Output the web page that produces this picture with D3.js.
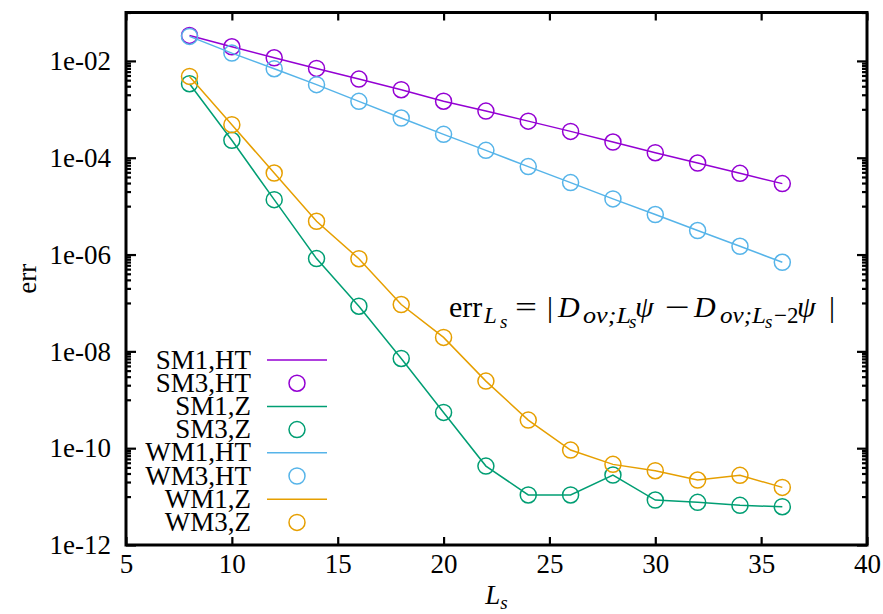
<!DOCTYPE html>
<html>
<head>
<meta charset="utf-8">
<script src="https://cdn.jsdelivr.net/npm/d3@7"></script>
<style>
  html, body { margin: 0; padding: 0; background: #fff; }
  svg { display: block; }
  text { font-family: "Liberation Serif", serif; fill: #000; }
</style>
</head>
<body>
<svg id="chart" width="883" height="614"></svg>
<script>
// Domain-wall extent L_s on the x axis
const Ls = [8, 10, 12, 14, 16, 18, 20, 22, 24, 26, 28, 30, 32, 34, 36];

// err_{L_s} for each kernel / approximation
const smHT = [3.36e-2, 1.96e-2, 1.16e-2, 7.0e-3, 4.21e-3, 2.54e-3, 1.47e-3, 9.2e-4,
              5.7e-4, 3.5e-4, 2.11e-4, 1.27e-4, 7.78e-5, 4.76e-5, 2.92e-5];
const smZ  = [3.38e-3, 2.29e-4, 1.36e-5, 8.26e-7, 8.57e-8, 7.13e-9, 5.48e-10, 4.27e-11,
              1.08e-11, 1.08e-11, 2.79e-11, 8.49e-12, 7.6e-12, 6.59e-12, 6.17e-12];
const wmHT = [3.21e-2, 1.45e-2, 6.9e-3, 3.23e-3, 1.46e-3, 6.6e-4, 3.04e-4, 1.42e-4,
              6.55e-5, 3.06e-5, 1.41e-5, 6.7e-6, 3.13e-6, 1.48e-6, 6.93e-7];
const wmZ  = [4.79e-3, 4.82e-4, 4.83e-5, 4.87e-6, 8.19e-7, 9.29e-8, 1.94e-8, 2.43e-9,
              3.8e-10, 9.14e-11, 4.63e-11, 3.42e-11, 2.2e-11, 2.75e-11, 1.55e-11];

// Legend entries, in drawing order
const legendLabels = ["SM1,HT", "SM3,HT", "SM1,Z", "SM3,Z", "WM1,HT", "WM3,HT", "WM1,Z", "WM3,Z"];

// Axis ticks
const xTicks = [5, 10, 15, 20, 25, 30, 35, 40];
const yTicks = [1e-12, 1e-10, 1e-8, 1e-6, 1e-4, 1e-2];
const yTickLabels = ["1e-12", "1e-10", "1e-08", "1e-06", "1e-04", "1e-02"];

const colors = { SM_HT: "#9400d3", SM_Z: "#009e73", WM_HT: "#56b4e9", WM_Z: "#e69f00" };

// series: line from the "1" entry, circles from the "3" entry
const series = [
  { label: legendLabels[0], kind: "line",   values: smHT, color: colors.SM_HT },
  { label: legendLabels[1], kind: "points", values: smHT, color: colors.SM_HT },
  { label: legendLabels[2], kind: "line",   values: smZ,  color: colors.SM_Z },
  { label: legendLabels[3], kind: "points", values: smZ,  color: colors.SM_Z },
  { label: legendLabels[4], kind: "line",   values: wmHT, color: colors.WM_HT },
  { label: legendLabels[5], kind: "points", values: wmHT, color: colors.WM_HT },
  { label: legendLabels[6], kind: "line",   values: wmZ,  color: colors.WM_Z },
  { label: legendLabels[7], kind: "points", values: wmZ,  color: colors.WM_Z }
];

const FONT = '"Liberation Serif", serif';
const LABEL_SIZE = 27;

const svg = d3.select("#chart");
const L = 126, R = 867, T = 12.5, B = 545;

const x = d3.scaleLinear().domain([5, 40]).range([L, R]);
const y = d3.scaleLog().domain([1e-12, 1e-1]).range([B, T]);

// minor ticks: 1..9 x 10^odd between the labelled decades
const yMinor = [];
for (let e = -11; e <= -1; e += 2) {
  for (let k = 1; k <= 9; k++) {
    const v = k * Math.pow(10, e);
    if (v <= 1e-1 * 1.0001) yMinor.push(v);
  }
}

function styleAxis(g) {
  g.attr("font-family", FONT).attr("font-size", LABEL_SIZE);
  g.select(".domain").remove();
  g.selectAll(".tick line").attr("stroke", "#000").attr("stroke-width", 2.2);
  g.selectAll(".tick text").attr("font-size", LABEL_SIZE).attr("fill", "#000")
    .style("font-family", FONT);
}

// left axis (labelled)
svg.append("g").attr("transform", `translate(${L},0)`)
  .call(d3.axisLeft(y).tickValues(yTicks).tickSize(-10).tickPadding(15)
        .tickFormat((d, i) => yTickLabels[i]))
  .call(styleAxis);
svg.append("g").attr("transform", `translate(${L},0)`)
  .call(d3.axisLeft(y).tickValues(yMinor).tickSize(-5).tickFormat(""))
  .call(styleAxis);
// right axis (mirror)
svg.append("g").attr("transform", `translate(${R},0)`)
  .call(d3.axisRight(y).tickValues(yTicks).tickSize(-10).tickFormat(""))
  .call(styleAxis);
svg.append("g").attr("transform", `translate(${R},0)`)
  .call(d3.axisRight(y).tickValues(yMinor).tickSize(-5).tickFormat(""))
  .call(styleAxis);
// bottom axis (labelled)
svg.append("g").attr("transform", `translate(0,${B})`)
  .call(d3.axisBottom(x).tickValues(xTicks).tickSize(-8).tickPadding(9).tickFormat(d3.format("d")))
  .call(styleAxis);
// top axis (mirror)
svg.append("g").attr("transform", `translate(0,${T})`)
  .call(d3.axisTop(x).tickValues(xTicks).tickSize(-8).tickFormat(""))
  .call(styleAxis);

// data
const line = d3.line().x((d, i) => x(Ls[i])).y(d => y(d));
series.forEach(s => {
  if (s.kind === "line") {
    svg.append("path").datum(s.values)
      .attr("d", line).attr("fill", "none")
      .attr("stroke", s.color).attr("stroke-width", 1.5);
  } else {
    svg.append("g").selectAll("circle").data(s.values).join("circle")
      .attr("cx", (d, i) => x(Ls[i])).attr("cy", d => y(d)).attr("r", 8)
      .attr("fill", "none").attr("stroke", s.color).attr("stroke-width", 1.5);
  }
});

// plot border
svg.append("rect").attr("x", L).attr("y", T).attr("width", R - L).attr("height", B - T)
  .attr("fill", "none").attr("stroke", "#000").attr("stroke-width", 3);

// legend
const legX = 251, legY0 = 360, legDy = 23.2;
const leg = svg.append("g");
series.forEach((s, i) => {
  const yy = legY0 + i * legDy;
  leg.append("text").attr("x", legX).attr("y", yy + 8.5)
    .attr("text-anchor", "end").attr("font-size", LABEL_SIZE).text(s.label);
  if (s.kind === "line") {
    leg.append("line").attr("x1", 267).attr("x2", 327).attr("y1", yy).attr("y2", yy)
      .attr("stroke", s.color).attr("stroke-width", 1.5);
  } else {
    leg.append("circle").attr("cx", 297).attr("cy", yy).attr("r", 8)
      .attr("fill", "none").attr("stroke", s.color).attr("stroke-width", 1.5);
  }
});

// axis titles
svg.append("text").attr("transform", `translate(27,${(T + B) / 2}) rotate(-90)`)
  .attr("text-anchor", "middle").attr("dy", "0.32em").attr("font-size", LABEL_SIZE).text("err");
const xt = svg.append("text").attr("x", (L + R) / 2).attr("y", 604)
  .attr("text-anchor", "middle").attr("font-size", LABEL_SIZE);
xt.append("tspan").attr("font-style", "italic").text("L");
xt.append("tspan").attr("font-style", "italic").attr("font-size", 19).attr("dy", 5).text("s");

// formula annotation: err_{L_s} = |D_{ov;L_s} psi - D_{ov;L_s-2} psi|
const f = svg.append("text").attr("y", 317).attr("font-size", 30);
const parts = [
  { t: "err", x: 449 },
  { t: "L", it: true, fs: 23, dy: 6, x: 484 },
  { t: "s", it: true, fs: 19, dy: 5, x: 500 },
  { t: "=", dy: -11, x: 515, w: 22 },
  { t: "|", x: 547 },
  { t: "D", it: true, x: 558 },
  { t: "ov;L", it: true, fs: 23, dy: 6, x: 583, w: 48 },
  { t: "s", it: true, fs: 19, dy: 5, x: 629 },
  { t: "ψ", it: true, dy: -11, x: 635 },
  { t: "−", x: 665, w: 25 },
  { t: "D", it: true, x: 694 },
  { t: "ov;L", it: true, fs: 23, dy: 6, x: 720, w: 46 },
  { t: "s", it: true, fs: 19, dy: 5, x: 765 },
  { t: "−2", fs: 23, dy: -5, x: 774 },
  { t: "ψ", it: true, dy: -6, x: 797 },
  { t: "|", x: 829 }
];
parts.forEach(p => {
  const ts = f.append("tspan").attr("x", p.x).text(p.t);
  if (p.it) ts.attr("font-style", "italic");
  if (p.fs) ts.attr("font-size", p.fs);
  if (p.dy) ts.attr("dy", p.dy);
  if (p.w) ts.attr("textLength", p.w).attr("lengthAdjust", "spacingAndGlyphs");
});
</script>
</body>
</html>
